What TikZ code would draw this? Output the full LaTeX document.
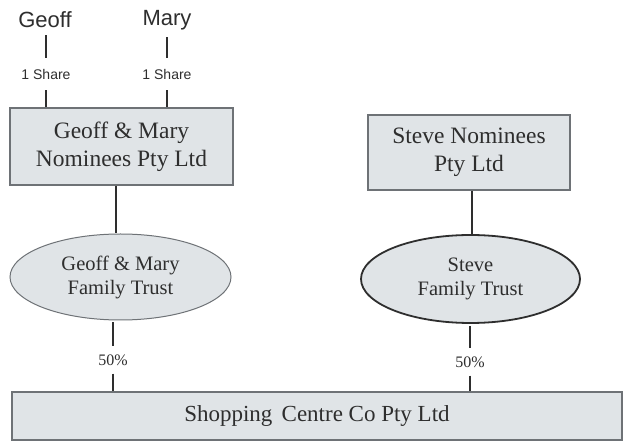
\documentclass[tikz,border=0pt]{standalone}
\usepackage{fontspec}
\setmainfont{Liberation Serif}
\newfontfamily\labelsans{Liberation Sans}
\usetikzlibrary{shapes.geometric}
\definecolor{boxfill}{HTML}{E0E4E7}
\definecolor{boxline}{HTML}{6E7276}
\definecolor{ink}{HTML}{2E2E2E}
\tikzset{
  company/.style={draw=boxline, line width=1.2pt, fill=boxfill, rectangle, inner sep=0pt,
    align=center, text=ink, font=\fontsize{23.5}{28}\selectfont},
  trust/.style={draw=boxline, line width=1pt, fill=boxfill, ellipse, inner sep=0pt,
    align=center, text=ink, font=\fontsize{20.5}{24}\selectfont},
  person/.style={inner sep=0pt, text=ink, font=\labelsans\fontsize{22}{24}\selectfont},
  sharelab/.style={inner xsep=1pt, inner ysep=11pt, text=ink, font=\labelsans\fontsize{14}{15}\selectfont},
  pctlab/.style={inner xsep=1pt, inner ysep=8pt, text=ink, font=\fontsize{16}{18}\selectfont},
  link/.style={draw=ink, line width=2.3pt}
}
\begin{document}
\begin{tikzpicture}[x=1pt,y=-1pt]
  \useasboundingbox (0,0) rectangle (625,446);
  \fill[white] (0,0) rectangle (625,446);

  % shareholders
  \node[person] (geoff) at (45,20) {Geoff};
  \node[person] (mary) at (167,20) {Mary};
  \node[sharelab] (s1) at (46,74) {1 Share};
  \node[sharelab] (s2) at (167,74) {1 Share};

  % companies and trusts
  \node[company, minimum width=223pt, minimum height=77pt] (gmco) at (121.5,146.5)
    {Geoff \& Mary\\Nominees Pty Ltd};
  \node[company, minimum width=202pt, minimum height=75pt] (steveco) at (469,152.5)
    {Steve Nominees\\Pty Ltd};
  \node[trust, minimum width=221pt, minimum height=86pt] (gmtrust) at (120.5,277)
    {Geoff \& Mary\\Family Trust};
  \node[trust, draw=ink, line width=1.8pt, minimum width=219pt, minimum height=88pt] (stevetrust) at (470.5,279)
    {Steve\\Family Trust};
  \node[company, minimum width=610pt, minimum height=48pt, font=\fontsize{23}{26}\selectfont] (shop) at (317,416)
    {Shopping\hspace{0.4em}Centre Co Pty Ltd};

  \node[pctlab] (p1) at (113,360) {50\%};
  \node[pctlab] (p2) at (470,362) {50\%};

  % ownership lines
  \draw[link, shorten <=7pt] (s1.north |- geoff.south) -- (s1.north);
  \draw[link] (s1.south) -- (s1.south |- gmco.north);
  \draw[link, shorten <=7pt] (s2.north |- mary.south) -- (s2.north);
  \draw[link] (s2.south) -- (s2.south |- gmco.north);

  \draw[link] (116,0 |- gmco.south) -- (116,0 |- gmtrust.north);
  \draw[link] (472,0 |- steveco.south) -- (472,0 |- stevetrust.north);

  \draw[link, shorten <=2pt] (p1.north |- gmtrust.south) -- (p1.north);
  \draw[link] (p1.south) -- (p1.south |- shop.north);
  \draw[link, shorten <=2pt] (p2.north |- stevetrust.south) -- (p2.north);
  \draw[link] (p2.south) -- (p2.south |- shop.north);
\end{tikzpicture}
\end{document}
